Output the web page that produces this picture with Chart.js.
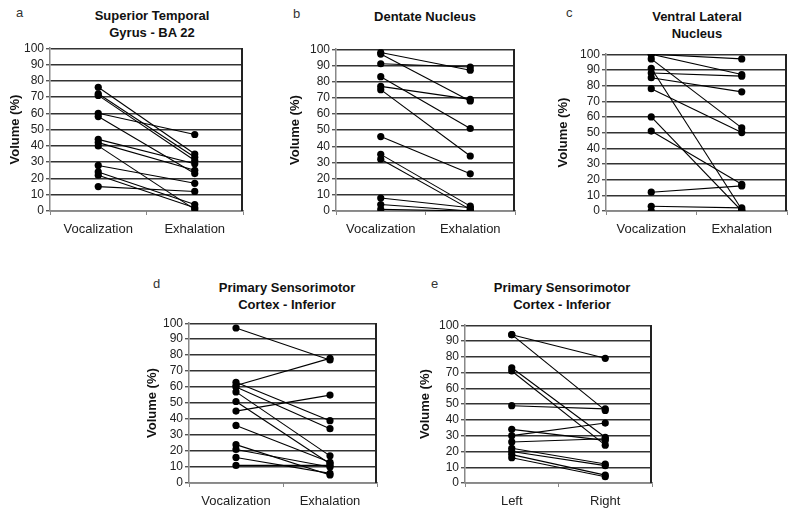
<!DOCTYPE html>
<html>
<head>
<meta charset="utf-8">
<script src="https://cdn.jsdelivr.net/npm/chart.js@4"></script>
<style>
  body { margin: 0; background: #fff; }
  #lienzo { position: relative; width: 800px; height: 519px; overflow: hidden; font-family: "Liberation Sans", Arial, sans-serif; }
  .panel { position: absolute; }
  .titulo { position: absolute; width: 220px; text-align: center; font-weight: bold; font-size: 13px; line-height: 17px; color: #111; }
  .letra { position: absolute; font-size: 13px; color: #333; }
</style>
</head>
<body>
<div id="lienzo"></div>
<script>
// categories
const phaseLabels = ["Vocalization", "Exhalation"];
const sideLabels = ["Left", "Right"];

// a - Superior Temporal Gyrus
const stgVocal = [76, 72, 71, 60, 58, 44, 42, 40, 28, 24, 22, 15];
const stgExhal = [35, 33, 31, 47, 23, 29, 25, 1, 17, 4, 2, 12];

// b - Dentate Nucleus
const dnVocal = [98, 97, 91, 83, 77, 75, 46, 35, 32, 8, 4, 1];
const dnExhal = [87, 68, 89, 51, 69, 34, 23, 3, 1, 2, 0, 0];

// c - Ventral Lateral Nucleus
const vlVocal = [100, 100, 97, 91, 88, 85, 78, 60, 51, 12, 3, 0];
const vlExhal = [97, 87, 53, 1, 86, 76, 50, 0, 17, 16, 2, 0];

// d - Primary Sensorimotor (vocalization / exhalation)
const psmVocal = [97, 61, 63, 60, 57, 51, 45, 36, 24, 21, 16, 11];
const psmExhal = [77, 78, 39, 34, 17, 12, 55, 13, 5, 10, 6, 11];

// e - Primary Sensorimotor (left / right)
const psmLeft = [94, 94, 73, 71, 49, 34, 30, 26, 22, 20, 18, 16];
const psmRight = [79, 46, 29, 24, 47, 27, 38, 28, 12, 11, 5, 4];

const yTicksMax = 100;
const yTicksStep = 10;

Chart.defaults.font.family = '"Liberation Sans", Arial, sans-serif';
Chart.defaults.color = "#222";

// closing line on the right side of the plot box
const bordeDerecho = {
    id: "bordeDerecho",
    afterDraw(chart) {
        const { ctx, chartArea } = chart;
        let x = Math.round(chartArea.right) - 1;
        ctx.save();
        ctx.strokeStyle = "#222";
        ctx.lineWidth = 2;
        ctx.beginPath();
        ctx.moveTo(x, chartArea.top);
        ctx.lineTo(x, chartArea.bottom);
        ctx.stroke();
        ctx.restore();
    }
};

const paneles = [
    { letra: "a", lx: 16, ly: 5, titulo: ["Superior Temporal", "Gyrus - BA 22"], tx: 152, ty: 7,
      x0: 50, x1: 243, y0: 47, y1: 211, ytx: 15, labels: phaseLabels, izq: stgVocal, der: stgExhal },
    { letra: "b", lx: 293, ly: 6, titulo: ["Dentate Nucleus"], tx: 425, ty: 8,
      x0: 336, x1: 515, y0: 48, y1: 211, ytx: 295, labels: phaseLabels, izq: dnVocal, der: dnExhal },
    { letra: "c", lx: 566, ly: 5, titulo: ["Ventral Lateral", "Nucleus"], tx: 697, ty: 8,
      x0: 606, x1: 787, y0: 53, y1: 211, ytx: 563, labels: phaseLabels, izq: vlVocal, der: vlExhal },
    { letra: "d", lx: 153, ly: 276, titulo: ["Primary Sensorimotor", "Cortex - Inferior"], tx: 287, ty: 279,
      x0: 189, x1: 377, y0: 322, y1: 483, ytx: 152, labels: phaseLabels, izq: psmVocal, der: psmExhal },
    { letra: "e", lx: 431, ly: 276, titulo: ["Primary Sensorimotor", "Cortex - Inferior"], tx: 562, ty: 279,
      x0: 465, x1: 652, y0: 324, y1: 483, ytx: 425, labels: sideLabels, izq: psmLeft, der: psmRight }
];

function crearPanel(p) {
    const lienzo = document.getElementById("lienzo");
    const yW = 56, padTop = 8, padRight = 6, xH = 35;

    // letter + title
    let l = document.createElement("div");
    l.className = "letra";
    l.style.left = p.lx + "px";
    l.style.top = p.ly + "px";
    l.textContent = p.letra;
    lienzo.appendChild(l);

    let t = document.createElement("div");
    t.className = "titulo";
    t.style.left = (p.tx - 110) + "px";
    t.style.top = p.ty + "px";
    t.innerHTML = p.titulo.join("<br>");
    lienzo.appendChild(t);

    // canvas
    let left = p.x0 - yW;
    let top = p.y0 - padTop;
    let w = p.x1 - p.x0 + yW + padRight;
    let h = p.y1 - p.y0 + padTop + xH;

    let c = document.createElement("canvas");
    c.className = "panel";
    c.width = w;
    c.height = h;
    c.style.left = left + "px";
    c.style.top = top + "px";
    c.style.width = w + "px";
    c.style.height = h + "px";
    lienzo.appendChild(c);

    let datasets = p.izq.map((v, i) => ({
        data: [v, p.der[i]],
        borderColor: "#000",
        borderWidth: 1.1,
        pointRadius: 3.6,
        pointBackgroundColor: "#000",
        pointBorderWidth: 0,
        tension: 0
    }));

    new Chart(c, {
        type: "line",
        data: { labels: p.labels, datasets: datasets },
        plugins: [bordeDerecho],
        options: {
            responsive: false,
            animation: false,
            events: [],
            layout: { autoPadding: false, padding: { top: padTop, right: padRight, left: 0, bottom: 0 } },
            plugins: { legend: { display: false }, tooltip: { enabled: false } },
            scales: {
                x: {
                    type: "category",
                    offset: true,
                    afterFit: s => { s.height = xH; },
                    grid: {
                        offset: true,
                        drawOnChartArea: false,
                        tickColor: "#888",
                        tickLength: 4
                    },
                    border: { display: true, color: "#888", width: 1.5 },
                    ticks: { font: { size: 13 }, color: "#222", padding: 7, maxRotation: 0 }
                },
                y: {
                    min: 0,
                    max: yTicksMax,
                    afterFit: s => { s.width = yW; },
                    grid: { color: "#333", lineWidth: 1.4, tickColor: "#555", tickLength: 4 },
                    border: { display: true, color: "#888", width: 1.5 },
                    ticks: { stepSize: yTicksStep, autoSkip: false, font: { size: 12 }, color: "#222", padding: 2 },
                    title: {
                        display: true,
                        text: "Volume (%)",
                        font: { size: 13, weight: "bold" },
                        color: "#111",
                        padding: { top: p.ytx - left - 7.8, bottom: 0 }
                    }
                }
            }
        }
    });
}

paneles.forEach(crearPanel);
</script>
</body>
</html>
